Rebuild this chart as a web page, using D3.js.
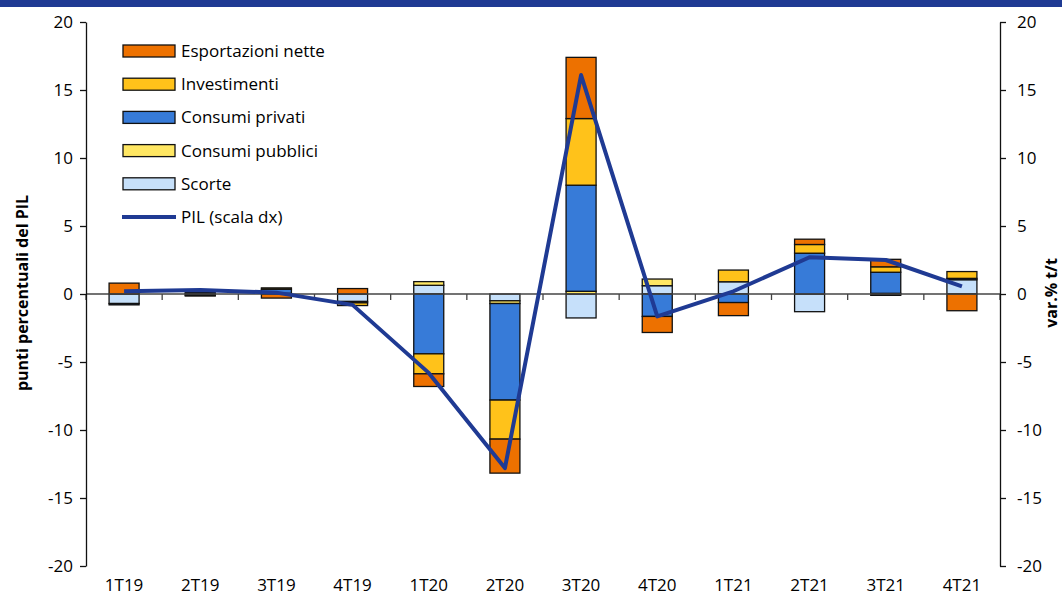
<!DOCTYPE html>
<html><head><meta charset="utf-8">
<script src="https://cdn.jsdelivr.net/npm/d3@7"></script>
<style>body{margin:0;background:#fff}svg{display:block}</style>
</head><body><svg id="c" width="1062" height="606"></svg>
<script>
const categories = ["1T19","2T19","3T19","4T19","1T20","2T20","3T20","4T20","1T21","2T21","3T21","4T21"];
const scorte          = [-0.7, -0.1, 0.0, -0.55, 0.64, -0.5, -1.76, 0.61, 0.9, -1.3, -0.1, 1.05];
const consumiPubblici = [0.0, 0.05, 0.05, 0.0, 0.27, -0.2, 0.2, 0.49, 0.0, 0.0, 0.05, 0.0];
const consumiPrivati  = [-0.1, 0.05, 0.3, -0.1, -4.4, -7.1, 7.8, -1.65, -0.63, 3.0, 1.55, 0.1];
const investimenti    = [0.0, 0.0, 0.1, -0.2, -1.47, -2.87, 4.9, 0.0, 0.86, 0.64, 0.4, 0.5];
const esportazioni    = [0.8, -0.05, -0.3, 0.4, -0.93, -2.5, 4.5, -1.18, -0.96, 0.39, 0.55, -1.23];
const pil             = [0.2, 0.3, 0.1, -0.8, -5.8, -12.8, 16.1, -1.65, 0.2, 2.7, 2.5, 0.56];
const yTicks = [-20,-15,-10,-5,0,5,10,15,20];
const seriesNames = ["Scorte","Consumi pubblici","Consumi privati","Investimenti","Esportazioni nette"];
const seriesData = [scorte, consumiPubblici, consumiPrivati, investimenti, esportazioni];
const seriesColors = ["#c6e0fa","#ffe763","#377bd8","#ffc21a","#ed7100"];
const legendOrder = [4,3,2,1,0];
const lineName = "PIL (scala dx)";
const leftTitle = "punti percentuali del PIL";
const rightTitle = "var.% t/t";

const svg = d3.select("#c");
const font = "'Open Sans', sans-serif";
const L = 86, R = 1000;
const x = d3.scaleBand().domain(categories).range([L, R]).paddingInner(0).paddingOuter(0);
const y = d3.scaleLinear().domain([-20, 20]).range([566, 22]);
const y2 = d3.scaleLinear().domain([-20, 20]).range([566, 22]);
const bw = 30;

svg.append("rect").attr("x",0).attr("y",0).attr("width",1062).attr("height",7).attr("fill","#1f3a93");

// bars
const gBars = svg.append("g");
categories.forEach((c, i) => {
  let pos = 0, neg = 0;
  seriesData.forEach((arr, s) => {
    const v = arr[i];
    if (!v) return;
    let a, b;
    if (v > 0) { a = pos; b = pos + v; pos = b; } else { a = neg; b = neg + v; neg = b; }
    gBars.append("rect")
      .attr("x", x(c) + x.bandwidth()/2 - bw/2)
      .attr("width", bw)
      .attr("y", y(Math.max(a,b)))
      .attr("height", Math.abs(y(a) - y(b)))
      .attr("fill", seriesColors[s])
      .attr("stroke", "#111").attr("stroke-width", 1.3);
  });
});

// x axis line at 0 with ticks between categories
const gx = svg.append("g");
gx.append("line").attr("x1", L).attr("x2", R).attr("y1", y(0)).attr("y2", y(0)).attr("stroke","#444").attr("stroke-width",1.3);
d3.range(categories.length + 1).forEach(k => {
  const xx = L + k * x.step();
  gx.append("line").attr("x1", xx).attr("x2", xx).attr("y1", y(0)).attr("y2", y(0) + 6).attr("stroke","#444").attr("stroke-width",1.3);
});
svg.append("g").selectAll("text").data(categories).join("text")
  .attr("x", d => x(d) + x.bandwidth()/2).attr("y", 591)
  .attr("text-anchor","middle").attr("font-family", font).attr("font-size", 17).attr("fill","#000")
  .text(d => d);

// left/right axes
const axL = svg.append("g").attr("transform", `translate(${L},0)`)
  .call(d3.axisLeft(y).tickValues(yTicks).tickFormat(d => String(d)).tickSize(6).tickSizeOuter(0).tickPadding(7));
const axR = svg.append("g").attr("transform", `translate(${R},0)`)
  .call(d3.axisRight(y2).tickValues(yTicks).tickFormat(d => String(d)).tickSize(6).tickSizeOuter(0).tickPadding(11));
[axL, axR].forEach(a => {
  a.selectAll("path,line").attr("stroke","#111").attr("stroke-width",1.3);
  a.selectAll("text").attr("font-family", font).attr("font-size", 17).attr("fill","#000");
});

// PIL line
svg.append("path").datum(pil)
  .attr("d", d3.line().x((d,i) => x(categories[i]) + x.bandwidth()/2).y(d => y2(d)))
  .attr("fill","none").attr("stroke","#1f3a93").attr("stroke-width",4).attr("stroke-linejoin","round");

// legend
const lg = svg.append("g");
legendOrder.forEach((s, k) => {
  const cy = 51 + k * 33.2;
  lg.append("rect").attr("x",123).attr("y",cy-6).attr("width",52).attr("height",12)
    .attr("fill", seriesColors[s]).attr("stroke","#111").attr("stroke-width",1.3);
  lg.append("text").attr("x",181).attr("y",cy+6).attr("font-family",font).attr("font-size",17).text(seriesNames[s]);
});
{
  const cy = 51 + 5 * 33.2;
  lg.append("line").attr("x1",122).attr("x2",176).attr("y1",cy).attr("y2",cy).attr("stroke","#1f3a93").attr("stroke-width",4);
  lg.append("text").attr("x",181).attr("y",cy+6).attr("font-family",font).attr("font-size",17).text(lineName);
}

// axis titles
svg.append("text").attr("transform","translate(28,293) rotate(-90)").attr("text-anchor","middle")
  .attr("font-family",font).attr("font-weight","bold").attr("font-size",16).text(leftTitle);
svg.append("text").attr("transform","translate(1057,293) rotate(-90)").attr("text-anchor","middle")
  .attr("font-family",font).attr("font-weight","bold").attr("font-size",16).text(rightTitle);
</script></body></html>
